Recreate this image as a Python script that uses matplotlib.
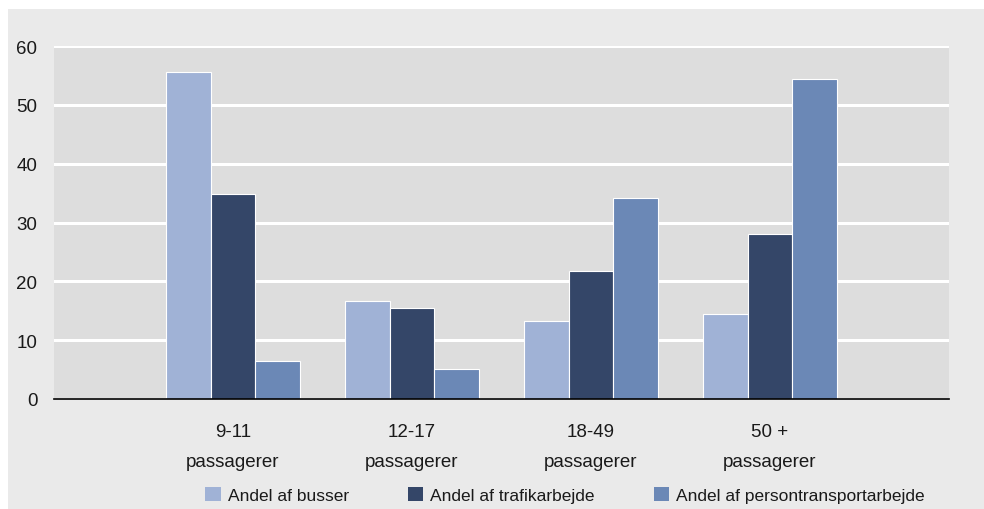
import matplotlib
matplotlib.use("Agg")
import matplotlib.pyplot as plt
import matplotlib.patches as mpatches
import numpy as np
from matplotlib import font_manager

categories = ["9-11\npassagerer", "12-17\npassagerer", "18-49\npassagerer", "50 +\npassagerer"]
series_names = ["Andel af busser", "Andel af trafikarbejde", "Andel af persontransportarbejde"]
busser = [55.6, 16.7, 13.3, 14.5]
trafik = [34.9, 15.4, 21.8, 28.0]
person = [6.4, 5.1, 34.1, 54.4]
yticks = [0, 10, 20, 30, 40, 50, 60]

colors = ["#A0B2D6", "#344668", "#6B88B6"]

avail = {f.name for f in font_manager.fontManager.ttflist}
fam = "Liberation Sans Narrow" if "Liberation Sans Narrow" in avail else "Liberation Sans"
plt.rcParams["font.family"] = [fam, "DejaVu Sans"]

fig = plt.figure(figsize=(9.84, 5.10), dpi=100, facecolor="white")
fig.patches.append(mpatches.Rectangle((8/984, 0), 1, (510-10)/510, transform=fig.transFigure,
                                      facecolor="#EAEAEA", edgecolor="none", zorder=-10))
ax = fig.add_axes([54/984, 110/510, (949-54)/984, (400-47)/510])
ax.set_facecolor("#DDDDDD")

x = np.arange(len(categories))
w = 0.25
for i, (vals, c, name) in enumerate(zip([busser, trafik, person], colors, series_names)):
    ax.bar(x + (i - 1) * w, vals, width=w, color=c, edgecolor="white", linewidth=0.8,
           label=name, zorder=3)

ax.set_xlim(-1, 4)
ax.set_ylim(0, 60)
ax.set_yticks(yticks)
ax.set_yticklabels([str(t) for t in yticks], fontsize=13.5, color="#1a1a1a")
ax.set_xticks(x)
ax.set_xticklabels(categories, fontsize=13.5, linespacing=2.05, color="#1a1a1a")
ax.tick_params(axis="both", length=0)
ax.tick_params(axis="y", pad=12)
ax.tick_params(axis="x", pad=17)
ax.yaxis.grid(True, color="white", linewidth=2.2, zorder=1)
ax.set_axisbelow(True)
for s in ["top", "right", "left"]:
    ax.spines[s].set_visible(False)
ax.spines["bottom"].set_color("black")
ax.spines["bottom"].set_linewidth(1.2)
ax.spines["bottom"].set_zorder(4)

handles, labels = ax.get_legend_handles_labels()
leg = fig.legend(handles, labels, loc="center", bbox_to_anchor=(565/984, 1 - 496/510), ncol=3,
                 frameon=False, fontsize=12.5, handlelength=0.9, handleheight=0.9,
                 handletextpad=0.4, columnspacing=3.4, borderaxespad=0)
for t in leg.get_texts():
    t.set_color("#1a1a1a")
for h in leg.legend_handles:
    h.set_edgecolor("none")

fig.savefig("out.png", dpi=100, facecolor=fig.get_facecolor())
